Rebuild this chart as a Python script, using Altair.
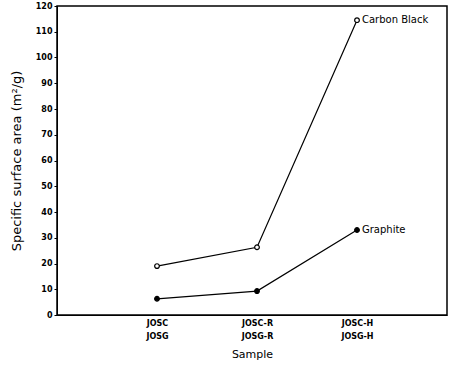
import altair as alt
import pandas as pd

positions = [1, 2, 3]
carbon_black = [19.0, 26.3, 114.5]
graphite = [6.3, 9.3, 33.0]
series_names = ["Carbon Black", "Graphite"]
y_ticks = [0, 10, 20, 30, 40, 50, 60, 70, 80, 90, 100, 110, 120]

rows = []
for name, vals in zip(series_names, [carbon_black, graphite]):
    for p, v in zip(positions, vals):
        rows.append({"series": name, "pos": p, "value": v})
df = pd.DataFrame(rows)

label_df = pd.DataFrame({
    "series": series_names,
    "pos": [positions[-1], positions[-1]],
    "value": [carbon_black[-1], graphite[-1]],
    "label": series_names,
})

font = "DejaVu Sans"

x = alt.X("pos:Q", scale=alt.Scale(domain=[0, 3.9], nice=False),
          axis=alt.Axis(values=positions, title="Sample", grid=False,
                        labelExpr="datum.value == 1 ? ['JOSC','JOSG'] : datum.value == 2 ? ['JOSC-R','JOSG-R'] : ['JOSC-H','JOSG-H']",
                        labelFontSize=8, labelFontWeight="bold", labelFont=font,
                        labelLineHeight=13,
                        titleFontSize=11, titleFont=font, titleFontWeight="normal",
                        ticks=False, domainColor="black", labelColor="black",
                        titleColor="black", titlePadding=8, labelPadding=4))
y = alt.Y("value:Q", scale=alt.Scale(domain=[0, 120], nice=False),
          axis=alt.Axis(values=y_ticks, tickCount=13, title="Specific surface area (m\u00b2/g)",
                        grid=False, labelFontSize=8, labelFontWeight="bold", labelFont=font,
                        labelOverlap=False, labelBound=False,
                        titleFontSize=13, titleFont=font, titleFontWeight="normal",
                        tickSize=3, tickColor="black", domainColor="black",
                        labelColor="black", titleColor="black", titlePadding=12, labelPadding=2))

lines = alt.Chart(df).mark_line(color="black", strokeWidth=1.2).encode(
    x=x, y=y, detail="series:N")

pts = alt.Chart(df).mark_point(size=22, strokeWidth=1.2, opacity=1).encode(
    x=x, y=y,
    color=alt.Color("series:N", scale=alt.Scale(domain=series_names, range=["black", "black"]), legend=None),
    fill=alt.Fill("series:N", scale=alt.Scale(domain=series_names, range=["white", "black"]), legend=None),
)

texts = alt.Chart(label_df).mark_text(align="left", dx=5, fontSize=10, font=font, color="black").encode(
    x=x, y=y, text="label:N")

chart = (lines + pts + texts).properties(
    width=390, height=309,
    autosize=alt.AutoSizeParams(type="none"),
    padding={"left": 57, "top": 6, "right": 7, "bottom": 53},
    background="white",
).configure_view(stroke="black", strokeWidth=1.5)

chart.save("out.html", embed_options={"renderer": "svg", "actions": False})
